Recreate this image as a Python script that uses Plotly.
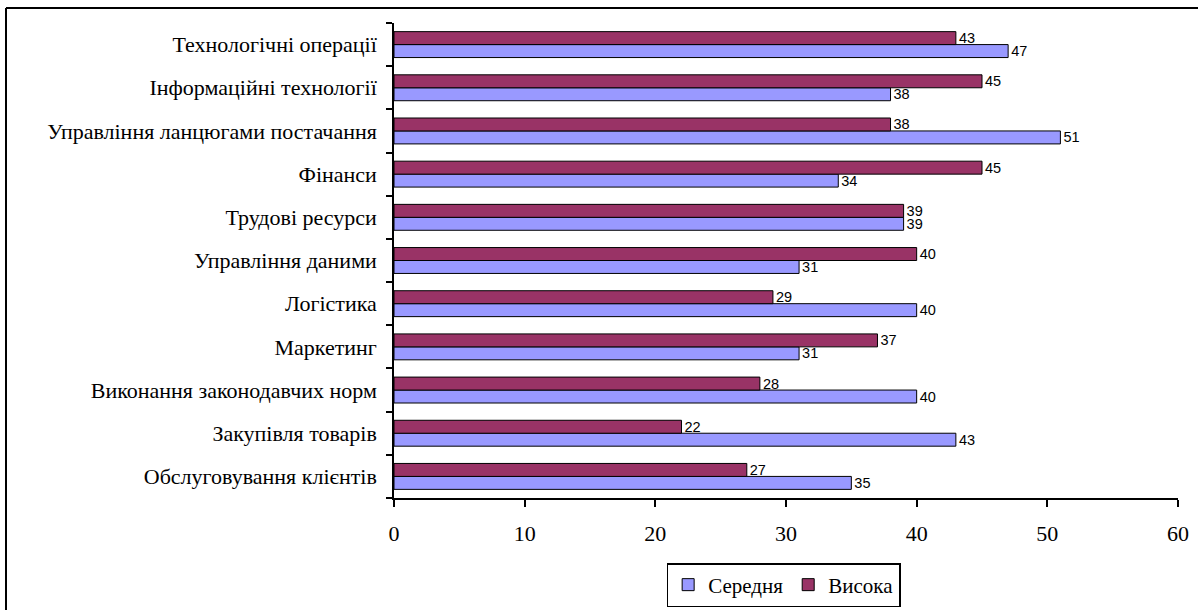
import plotly.graph_objects as go

categories = [
    "Обслуговування клієнтів",
    "Закупівля товарів",
    "Виконання законодавчих норм",
    "Маркетинг",
    "Логістика",
    "Управління даними",
    "Трудові ресурси",
    "Фінанси",
    "Управління ланцюгами постачання",
    "Інформаційні технології",
    "Технологічні операції",
]
medium = [35, 43, 40, 31, 40, 31, 39, 34, 51, 38, 47]
high = [27, 22, 28, 37, 29, 40, 39, 45, 38, 45, 43]
series_names = ["Середня", "Висока"]
xticks = [0, 10, 20, 30, 40, 50, 60]

SERIF = "Liberation Serif"
SANS = "Liberation Sans"

W, H = 1198, 610
L, R, T, B = 394, 20, 23, 112
pw, ph = W - L - R, H - T - B

fig = go.Figure()
for name, vals, color in [(series_names[0], medium, "#9999FF"), (series_names[1], high, "#993366")]:
    fig.add_trace(go.Bar(
        y=categories, x=vals, orientation="h", name=name,
        marker=dict(color=color, line=dict(color="black", width=1)),
        text=[str(v) for v in vals], textposition="outside", constraintext="none",
        textfont=dict(family=SANS, size=14.5, color="black"),
        cliponaxis=False,
    ))

fig.update_layout(
    width=W, height=H,
    margin=dict(l=L, r=R, t=T, b=B, autoexpand=False),
    paper_bgcolor="white", plot_bgcolor="white",
    barmode="group", bargap=0.4, bargroupgap=0,
    font=dict(family=SERIF, size=22, color="black"),
    showlegend=True,
    legend=dict(orientation="h", x=0.497, xanchor="center", y=-(563 - (H - B)) / ph, yanchor="top",
                bordercolor="black", borderwidth=1.5, bgcolor="white",
                font=dict(family=SERIF, size=21, color="black"),
                traceorder="normal", itemwidth=30),
    xaxis=dict(range=[0, 60], tickvals=xticks, ticktext=[str(t) for t in xticks],
               showgrid=False, zeroline=False, showline=True, linecolor="black", linewidth=1.5,
               ticks="outside", ticklen=7, tickcolor="black", tickwidth=1.5,
               ticklabelstandoff=8, automargin=False,
               tickfont=dict(family=SERIF, size=22)),
    yaxis=dict(type="category", categoryorder="array", categoryarray=categories,
               showgrid=False, zeroline=False, showline=True, linecolor="black", linewidth=1.5,
               ticks="outside", ticklen=6, tickcolor="black", tickwidth=1.5, tickson="boundaries",
               ticklabelstandoff=11, automargin=False,
               tickfont=dict(family=SERIF, size=22)),
    shapes=[
        dict(type="line", xref="paper", yref="paper",
             x0=(6 - L) / pw, x1=(W + 10 - L) / pw,
             y0=((H - B) - 8) / ph, y1=((H - B) - 8) / ph,
             line=dict(color="black", width=2)),
        dict(type="line", xref="paper", yref="paper",
             x0=(6 - L) / pw, x1=(6 - L) / pw,
             y0=((H - B) - 8) / ph, y1=((H - B) - (H + 10)) / ph,
             line=dict(color="black", width=2)),
    ],
)

fig.write_html("out.html")
